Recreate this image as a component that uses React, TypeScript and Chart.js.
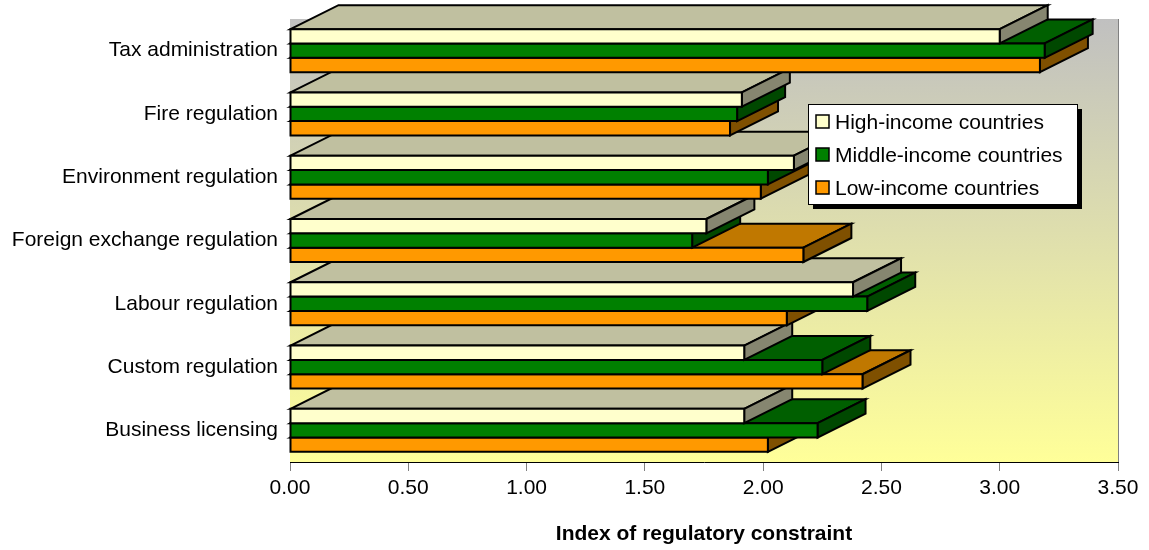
import React, { useEffect, useRef } from 'react';
import { Chart, registerables } from 'chart.js';

Chart.register(...registerables);

const categories = [
  'Tax administration',
  'Fire regulation',
  'Environment regulation',
  'Foreign exchange regulation',
  'Labour regulation',
  'Custom regulation',
  'Business licensing',
];
const seriesNames = ['High-income countries', 'Middle-income countries', 'Low-income countries'];
const highIncome = [3.0, 1.91, 2.13, 1.76, 2.38, 1.92, 1.92];
const middleIncome = [3.19, 1.89, 2.02, 1.7, 2.44, 2.25, 2.23];
const lowIncome = [3.17, 1.86, 1.99, 2.17, 2.1, 2.42, 2.02];
const xTickLabels = ['0.00', '0.50', '1.00', '1.50', '2.00', '2.50', '3.00', '3.50'];
const axisTitle = 'Index of regulatory constraint';

const FONT = "'Liberation Sans', Arial, sans-serif";
const FS = 21;
const faces = [
  { front: '#ffffcc', top: '#c0c0a0', side: '#868670' },
  { front: '#008000', top: '#005f00', side: '#004800' },
  { front: '#ff9900', top: '#c07800', side: '#7f5000' },
];
const DX = 48;
const DY = 24;

function poly(ctx: CanvasRenderingContext2D, pts: number[][], fill: string) {
  ctx.beginPath();
  ctx.moveTo(pts[0][0], pts[0][1]);
  for (let i = 1; i < pts.length; i++) ctx.lineTo(pts[i][0], pts[i][1]);
  ctx.closePath();
  ctx.fillStyle = fill;
  ctx.fill();
  ctx.stroke();
}

const bars3d = {
  id: 'bars3d',
  beforeDraw(chart: any) {
    const { ctx, chartArea: a } = chart;
    ctx.save();
    const g = ctx.createLinearGradient(0, a.top, 0, a.bottom);
    g.addColorStop(0, '#c0c0c0');
    g.addColorStop(1, '#ffff99');
    ctx.fillStyle = g;
    ctx.fillRect(a.left, a.top, a.right - a.left, a.bottom - a.top);
    ctx.strokeStyle = '#808080';
    ctx.lineWidth = 1;
    ctx.beginPath();
    ctx.moveTo(a.right + 0.5, a.top);
    ctx.lineTo(a.right + 0.5, a.bottom);
    ctx.stroke();
    ctx.restore();
  },
  afterDatasetsDraw(chart: any) {
    const { ctx } = chart;
    const n = chart.data.labels.length;
    const nds = chart.data.datasets.length;
    ctx.save();
    ctx.strokeStyle = '#000';
    ctx.lineWidth = 2;
    ctx.lineJoin = 'miter';
    for (let i = n - 1; i >= 0; i--) {
      for (let d = nds - 1; d >= 0; d--) {
        const el = chart.getDatasetMeta(d).data[i];
        const { x, y, base, height } = el.getProps(['x', 'y', 'base', 'height'], true);
        const l = Math.min(x, base);
        const r = Math.max(x, base);
        const t = y - height / 2;
        const b = y + height / 2;
        const f = faces[d];
        poly(ctx, [[l, t], [l + DX, t - DY], [r + DX, t - DY], [r, t]], f.top);
        poly(ctx, [[r, t], [r + DX, t - DY], [r + DX, b - DY], [r, b]], f.side);
        poly(ctx, [[l, t], [r, t], [r, b], [l, b]], f.front);
      }
    }
    ctx.restore();
  },
  afterDraw(chart: any) {
    const { ctx } = chart;
    const bx = 808, by = 104, bw = 269, bh = 100;
    ctx.save();
    ctx.fillStyle = '#000';
    ctx.fillRect(bx + 5, by + 5, bw, bh);
    ctx.fillStyle = '#fff';
    ctx.fillRect(bx, by, bw, bh);
    ctx.strokeStyle = '#000';
    ctx.lineWidth = 1;
    ctx.strokeRect(bx + 0.5, by + 0.5, bw, bh);
    ctx.font = `${FS}px ${FONT}`;
    ctx.textBaseline = 'middle';
    chart.data.datasets.forEach((ds: any, k: number) => {
      const cy = by + 18 + k * 33;
      ctx.fillStyle = faces[k].front;
      ctx.fillRect(bx + 8, cy - 7, 13, 13);
      ctx.lineWidth = 1.5;
      ctx.strokeStyle = '#000';
      ctx.strokeRect(bx + 8, cy - 7, 13, 13);
      ctx.fillStyle = '#000';
      ctx.fillText(ds.label, bx + 27, cy + 1);
    });
    ctx.restore();
  },
};

export default function App() {
  const ref = useRef<HTMLCanvasElement>(null);
  useEffect(() => {
    if (!ref.current) return;
    const series = [highIncome, middleIncome, lowIncome];
    const chart = new Chart(ref.current, {
      type: 'bar',
      data: {
        labels: categories,
        datasets: series.map((data, k) => ({
          label: seriesNames[k],
          data,
          backgroundColor: 'rgba(0,0,0,0)',
          borderWidth: 0,
          categoryPercentage: 0.68,
          barPercentage: 1,
        })),
      },
      plugins: [bars3d],
      options: {
        indexAxis: 'y',
        responsive: false,
        animation: false,
        devicePixelRatio: 1,
        layout: { padding: { top: 19, right: 31, left: 0, bottom: 0 } },
        plugins: { legend: { display: false }, tooltip: { enabled: false } },
        scales: {
          x: {
            min: 0,
            max: 3.5,
            afterFit: (s: any) => {
              s.height = 88;
              s.paddingLeft = 0;
              s.paddingRight = 0;
            },
            ticks: {
              stepSize: 0.5,
              padding: 5,
              color: '#000',
              font: { family: FONT, size: FS },
              callback: (_v: any, i: number) => xTickLabels[i],
            },
            grid: { display: true, drawOnChartArea: false, drawTicks: true, tickLength: 9, color: '#808080' },
            border: { display: true, color: '#000', width: 1 },
            title: {
              display: true,
              text: axisTitle,
              color: '#000',
              font: { family: FONT, size: FS, weight: 'bold' },
              padding: { top: 0, bottom: 3 },
            },
          },
          y: {
            afterFit: (s: any) => {
              s.width = 290;
              s.paddingTop = 0;
              s.paddingBottom = 0;
            },
            ticks: { padding: 12, color: '#000', font: { family: FONT, size: FS } },
            grid: { display: false, drawTicks: false },
            border: { display: false },
          },
        },
      },
    } as any);
    return () => chart.destroy();
  }, []);
  return (
    <div style={{ position: 'absolute', left: 0, top: 0, width: 1149, height: 550 }}>
      <canvas ref={ref} width={1149} height={550} />
    </div>
  );
}
